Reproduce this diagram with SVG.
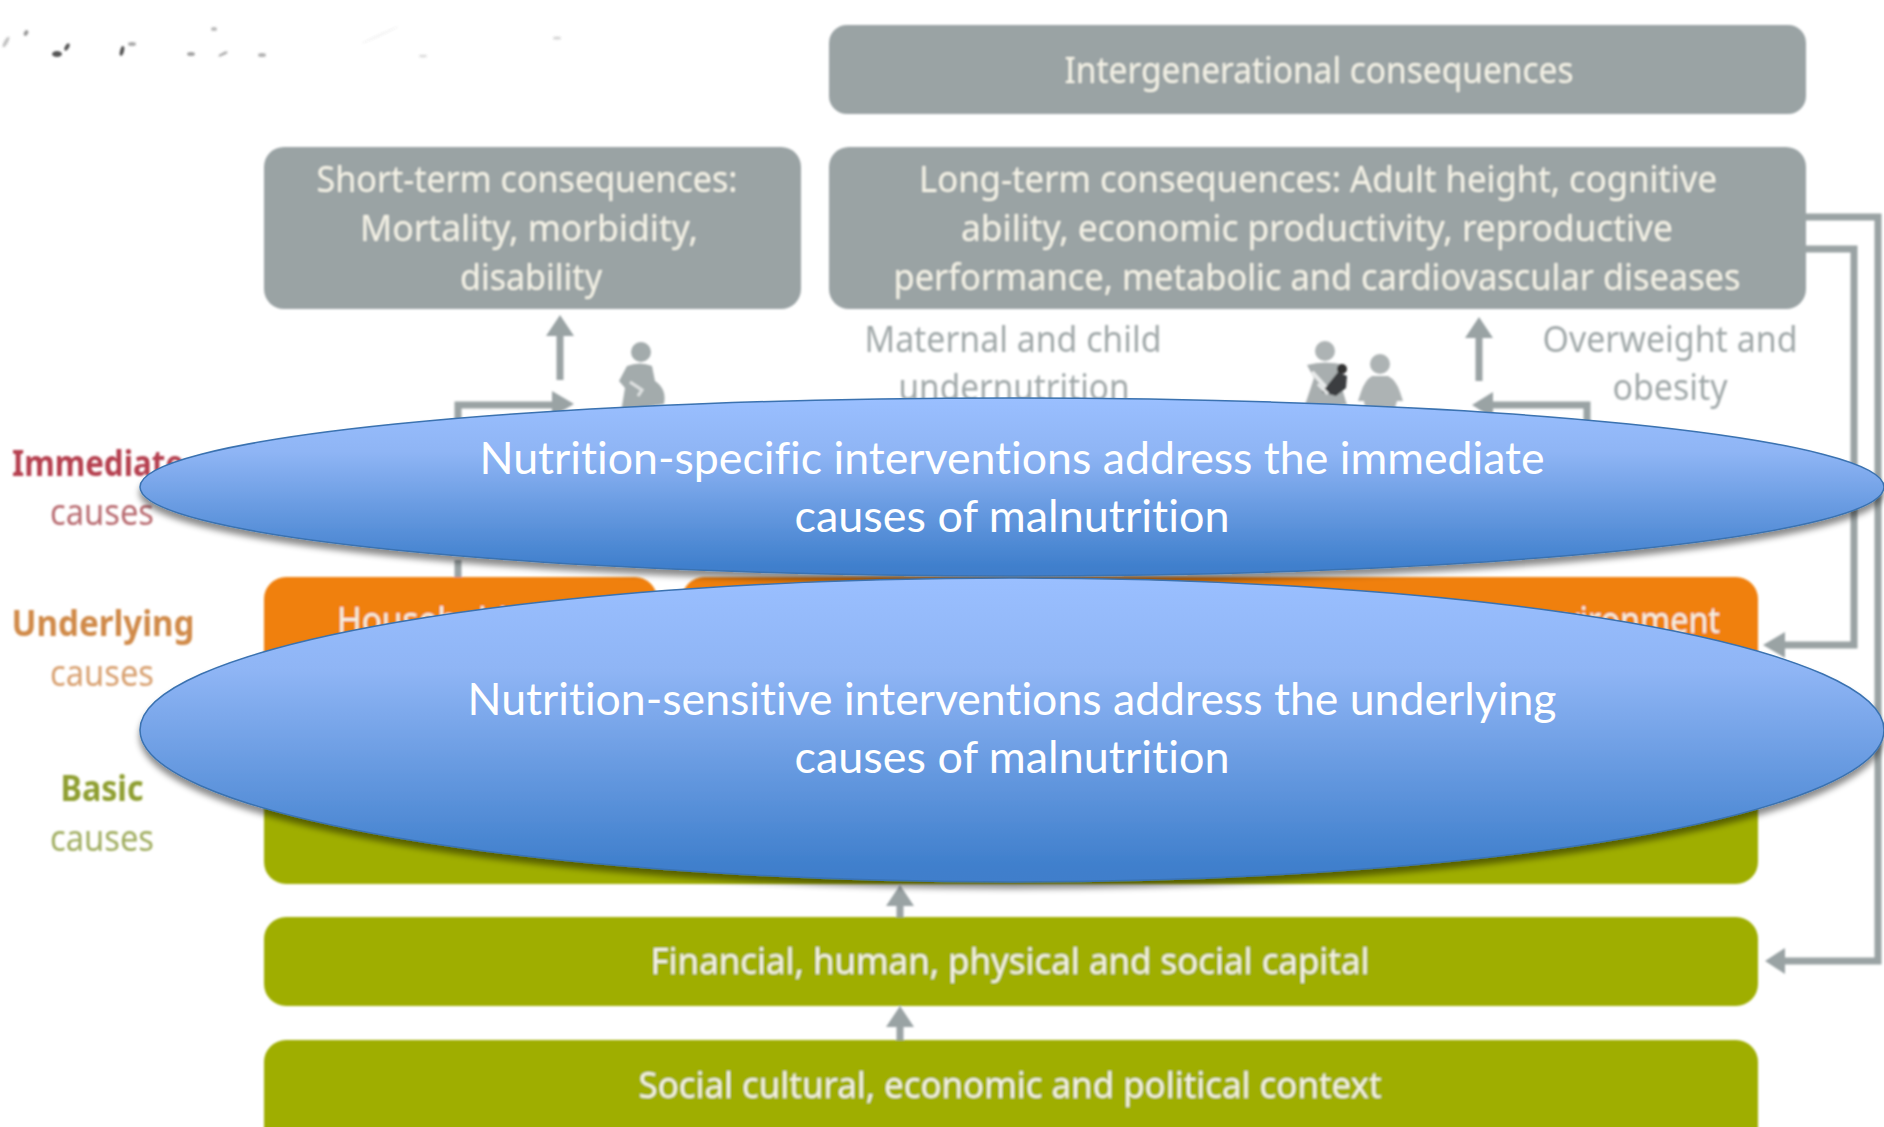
<svg xmlns="http://www.w3.org/2000/svg" width="1884" height="1127" viewBox="0 0 1884 1127">
<style>
text{font-family:"Noto Sans","DejaVu Sans",sans-serif;text-anchor:middle;font-variant-ligatures:none}
.g{fill:#9aa3a4}
.o{fill:#f0800d}
.v{fill:#9fae00}
.w{fill:#f4f2e6;font-size:37px}
.t{fill:#a0a8a9;font-size:37px}
.e{fill:#fff;font-size:45px;font-family:"Lato","Noto Sans",sans-serif}
.b{font-size:36px;font-weight:700}
.c{font-size:37px}
.ln{fill:none;stroke:#9aa3a4;stroke-width:7}
.hd{fill:#9aa3a4}
.ell{stroke:#3a72b0;stroke-width:1.5;fill:url(#blue);filter:url(#shadow)}
.sm{fill:#555}
</style>
<defs>
<linearGradient id="blue" x1="0" y1="0" x2="0" y2="1">
<stop offset="0" stop-color="#9abfff"/><stop offset="0.3" stop-color="#8fb5f5"/><stop offset="0.95" stop-color="#3f7fcc"/><stop offset="1" stop-color="#3f7ecb"/>
</linearGradient>
<filter id="shadow" x="-5%" y="-10%" width="110%" height="125%"><feDropShadow dx="0" dy="6" stdDeviation="3" flood-color="#000" flood-opacity="0.45"/></filter>
<filter id="soft" x="-2%" y="-2%" width="104%" height="104%"><feGaussianBlur stdDeviation="0.8"/></filter>
<filter id="smear"><feGaussianBlur stdDeviation="1.1"/></filter>
</defs>
<rect width="1884" height="1127" fill="#fff"/>
<g id="smudges" filter="url(#smear)">
<ellipse class="sm" cx="57" cy="54" rx="5" ry="3"/>
<ellipse class="sm" cx="67" cy="47" rx="2" ry="4" transform="rotate(30 67 47)"/>
<ellipse class="sm" cx="122" cy="51" rx="2" ry="5" transform="rotate(15 122 51)"/>
<ellipse class="sm" cx="132" cy="44" rx="4" ry="2" opacity=".5"/>
<ellipse class="sm" cx="26" cy="33" rx="2" ry="3" opacity=".6" transform="rotate(30 26 33)"/>
<ellipse class="sm" cx="6" cy="42" rx="2" ry="6" opacity=".35" transform="rotate(30 6 42)"/>
<ellipse class="sm" cx="191" cy="54" rx="4" ry="2" opacity=".55"/>
<ellipse class="sm" cx="223" cy="54" rx="5" ry="1.5" opacity=".45" transform="rotate(-25 223 54)"/>
<ellipse class="sm" cx="262" cy="55" rx="4" ry="2" opacity=".45"/>
<ellipse class="sm" cx="214" cy="29" rx="3" ry="2" opacity=".4"/>
<ellipse class="sm" cx="557" cy="38" rx="4" ry="1.5" opacity=".25"/>
<ellipse class="sm" cx="423" cy="56" rx="4" ry="1.5" opacity=".2"/>
<ellipse class="sm" cx="380" cy="35" rx="20" ry="1" opacity=".08" transform="rotate(-25 380 35)"/>
</g>
<g id="diagram" filter="url(#soft)">
<g id="connectors">
<path class="ln" d="M560 330V380"/><path class="hd" d="M560 315L574 336H546Z"/>
<path class="ln" d="M458 440V405H556"/><path class="hd" d="M574 404L552 391V417Z"/>
<path class="ln" d="M458 560V577"/>
<path class="ln" d="M1479 330V381"/><path class="hd" d="M1479 317L1493 338H1465Z"/>
<path class="ln" d="M1587 440V405H1488"/><path class="hd" d="M1472 405L1493 392V418Z"/>
<path class="ln" d="M1806 217H1878V961H1780"/><path class="hd" d="M1765 961L1785 948V974Z"/>
<path class="ln" d="M1806 249H1854V645H1778"/><path class="hd" d="M1763 645L1785 632V658Z"/>
<path class="ln" d="M900 900V917"/><path class="hd" d="M900 885L914 906H886Z"/>
<path class="ln" d="M900 1020V1040"/><path class="hd" d="M900 1006L914 1027H886Z"/>
</g>
<g id="intergenerational"><rect class="g" x="829" y="25" width="977" height="89" rx="18"/>
<text class="w" x="1319" y="83" textLength="509" lengthAdjust="spacingAndGlyphs">Intergenerational consequences</text></g>
<g id="short-term"><rect class="g" x="264" y="147" width="537" height="162" rx="20"/>
<text class="w" x="527" y="192" textLength="421" lengthAdjust="spacingAndGlyphs">Short-term consequences:</text>
<text class="w" x="529" y="241" textLength="338" lengthAdjust="spacingAndGlyphs">Mortality, morbidity,</text>
<text class="w" x="531" y="290" textLength="142" lengthAdjust="spacingAndGlyphs">disability</text></g>
<g id="long-term"><rect class="g" x="829" y="147" width="977" height="162" rx="20"/>
<text class="w" x="1318" y="192" textLength="798" lengthAdjust="spacingAndGlyphs">Long-term consequences: Adult height, cognitive</text>
<text class="w" x="1317" y="241" textLength="712" lengthAdjust="spacingAndGlyphs">ability, economic productivity, reproductive</text>
<text class="w" x="1317" y="290" textLength="847" lengthAdjust="spacingAndGlyphs">performance, metabolic and cardiovascular diseases</text></g>
<g id="undernutrition-label">
<text class="t" x="1013" y="352" textLength="297" lengthAdjust="spacingAndGlyphs">Maternal and child</text>
<text class="t" x="1014" y="400" textLength="231" lengthAdjust="spacingAndGlyphs">undernutrition</text></g>
<g id="overweight-label">
<text class="t" x="1670" y="352" textLength="255" lengthAdjust="spacingAndGlyphs">Overweight and</text>
<text class="t" x="1670" y="400" textLength="115" lengthAdjust="spacingAndGlyphs">obesity</text></g>
<g id="icon-person">
<circle cx="641" cy="352" r="10" fill="#a3abac"/>
<path fill="#a3abac" d="M627 366Q640 361 652 366L655 381Q667 389 664 404L621 412L625 388L619 381Z"/>
<path d="M630 382L642 390L638 396" fill="none" stroke="#dfe2e2" stroke-width="3"/>
</g>
<g id="icon-mother-child">
<circle cx="1325" cy="351" r="10" fill="#adb3b4"/>
<path fill="#a8aeaf" d="M1307 365Q1325 360 1345 365L1338 375L1347 405H1305L1314 378Z"/>
<path d="M1312 372L1331 393" stroke="#e8eaea" stroke-width="4"/>
<circle cx="1342" cy="369" r="5" fill="#333"/>
<path d="M1322 392L1338 372L1347 376L1346 388L1336 396Z" fill="#3a3d40"/>
<path d="M1318 384L1328 394" stroke="#e8eaea" stroke-width="3"/>
<circle cx="1380" cy="364" r="10" fill="#adb3b4"/>
<path fill="#adb3b4" d="M1372 376H1388Q1396 380 1400 392L1403 401H1397L1395 408H1365L1364 401H1358L1361 392Q1365 380 1372 376Z"/>
</g>
<g id="label-immediate">
<text class="b" x="98" y="476" fill="#b5404f" textLength="172" lengthAdjust="spacingAndGlyphs">Immediate</text>
<text class="c" x="102" y="525" fill="#b86a70" textLength="104" lengthAdjust="spacingAndGlyphs">causes</text></g>
<g id="label-underlying">
<text class="b" x="103" y="636" fill="#d08a4a" textLength="183" lengthAdjust="spacingAndGlyphs">Underlying</text>
<text class="c" x="102" y="686" fill="#d8a070" textLength="104" lengthAdjust="spacingAndGlyphs">causes</text></g>
<g id="label-basic">
<text class="b" x="102" y="801" fill="#8f9f30" textLength="83" lengthAdjust="spacingAndGlyphs">Basic</text>
<text class="c" x="102" y="851" fill="#a0ad60" textLength="104" lengthAdjust="spacingAndGlyphs">causes</text></g>
<g id="household"><rect class="o" x="264" y="577" width="393" height="130" rx="22"/>
<text class="w" x="337" y="633" style="text-anchor:start" textLength="170" lengthAdjust="spacingAndGlyphs">Household</text></g>
<g id="environment"><rect class="o" x="682" y="577" width="1076" height="130" rx="22"/>
<text class="w" x="1720" y="633" style="text-anchor:end" textLength="195" lengthAdjust="spacingAndGlyphs">environment</text></g>
<g id="basic-box"><rect class="v" x="264" y="700" width="1494" height="184" rx="22"/></g>
<g id="capital"><rect class="v" x="264" y="917" width="1494" height="89" rx="22"/>
<text class="w" x="1010" y="974" textLength="719" lengthAdjust="spacingAndGlyphs">Financial, human, physical and social capital</text></g>
<g id="context"><rect class="v" x="264" y="1040" width="1494" height="110" rx="22"/>
<text class="w" x="1010" y="1098" textLength="743" lengthAdjust="spacingAndGlyphs">Social cultural, economic and political context</text></g>
</g>
<g id="nutrition-specific">
<ellipse class="ell" cx="1012" cy="487" rx="872" ry="89"/>
<text class="e" x="1012" y="474" textLength="1065" lengthAdjust="spacingAndGlyphs">Nutrition-specific interventions address the immediate</text>
<text class="e" x="1012" y="532" textLength="435" lengthAdjust="spacingAndGlyphs">causes of malnutrition</text>
</g>
<g id="nutrition-sensitive">
<ellipse class="ell" cx="1012" cy="730" rx="872" ry="152"/>
<text class="e" x="1012" y="715" textLength="1089" lengthAdjust="spacingAndGlyphs">Nutrition-sensitive interventions address the underlying</text>
<text class="e" x="1012" y="773" textLength="435" lengthAdjust="spacingAndGlyphs">causes of malnutrition</text>
</g>
</svg>
